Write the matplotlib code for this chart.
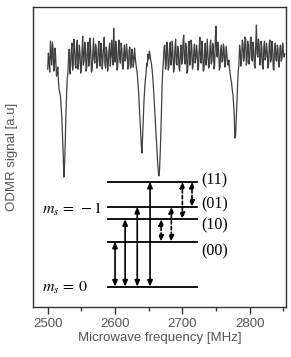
import numpy as np
import matplotlib
matplotlib.use("Agg")
import matplotlib.pyplot as plt

# ODMR spectrum, 1 MHz steps from 2500 MHz
freq = np.arange(2500, 2853, 1)
signal = [
    98.6, 100.2, 99.4, 98.3, 101.4, 100.1, 99.0, 101.3, 100.6, 98.4,
    98.9, 100.7, 99.6, 97.9, 98.2, 98.8, 97.4, 96.5, 96.3, 95.9,
    94.8, 93.7, 92.0, 90.1, 87.8, 89.0, 91.0, 93.9, 96.0, 97.6,
    98.3, 99.7, 100.6, 98.1, 98.9, 100.4, 101.2, 98.5, 99.1, 101.6,
    100.8, 99.0, 98.7, 100.9, 101.5, 98.6, 99.3, 101.0, 100.2, 98.2,
    98.6, 100.4, 101.9, 99.0, 99.4, 101.3, 100.9, 98.4, 98.8, 100.6,
    101.3, 98.9, 99.6, 101.7, 100.4, 98.3, 98.5, 100.1, 101.7, 99.6,
    99.2, 101.1, 100.8, 98.7, 99.0, 100.6, 101.4, 99.3, 98.9, 101.2,
    100.5, 98.6, 99.5, 101.0, 101.8, 99.1, 98.7, 100.8, 100.3, 98.4,
    99.1, 100.5, 101.2, 98.9, 99.8, 101.5, 100.1, 99.0, 102.7, 100.2,
    99.3, 101.4, 100.9, 98.5, 98.8, 100.7, 101.5, 99.6, 99.2, 101.2,
    100.7, 98.9, 98.6, 100.3, 101.0, 99.4, 99.7, 101.1, 100.4, 98.6,
    99.0, 100.5, 100.8, 98.7, 98.9, 100.6, 100.2, 98.8, 99.4, 100.7,
    99.8, 99.1, 98.6, 98.2, 97.3, 96.3, 95.0, 93.8, 92.5, 91.0,
    90.2, 91.9, 93.8, 95.4, 96.6, 97.5, 98.1, 99.2, 98.9, 100.1,
    99.6, 100.4, 100.0, 99.5, 99.2, 98.6, 97.8, 96.8, 95.6, 94.5,
    93.2, 92.0, 90.8, 89.6, 88.6, 87.9, 88.4, 90.0, 92.0, 94.8,
    97.2, 98.6, 99.6, 100.9, 101.0, 98.6, 99.1, 101.3, 100.7, 98.5,
    98.8, 100.6, 101.3, 99.0, 99.5, 101.4, 100.2, 98.3, 98.7, 100.8,
    101.6, 99.2, 99.0, 100.9, 100.6, 98.7, 98.4, 100.3, 101.0, 99.1,
    99.4, 101.3, 102.0, 99.6, 99.1, 101.2, 100.5, 98.2, 98.6, 100.9,
    101.4, 99.0, 99.3, 101.5, 100.9, 98.6, 98.9, 100.4, 101.1, 99.2,
    99.7, 101.0, 100.3, 98.5, 98.8, 100.7, 101.8, 99.3, 99.2, 101.4,
    100.6, 98.4, 98.5, 100.2, 101.2, 99.0, 99.6, 101.6, 100.1, 98.7,
    98.9, 100.8, 101.5, 99.1, 99.4, 101.2, 100.8, 98.6, 99.0, 101.7,
    102.9, 100.0, 99.8, 101.3, 100.4, 98.5, 98.8, 100.6, 101.0, 99.3,
    99.5, 101.1, 100.6, 98.8, 99.1, 100.9, 100.2, 99.4, 99.0, 99.5,
    98.6, 98.2, 97.6, 97.3, 96.6, 96.1, 95.2, 94.0, 91.7, 91.9,
    93.6, 95.5, 97.0, 98.4, 99.0, 101.0, 100.4, 98.9, 99.6, 101.5,
    101.2, 99.4, 99.9, 101.8, 101.6, 99.0, 99.3, 101.4, 100.9, 99.1,
    99.7, 101.5, 101.8, 99.6, 99.4, 101.3, 100.6, 98.9, 98.7, 101.2,
    103.0, 100.1, 99.8, 101.6, 101.1, 99.0, 99.2, 101.4, 100.7, 98.8,
    98.6, 100.9, 101.4, 99.5, 99.9, 101.2, 100.3, 98.7, 99.0, 101.1,
    101.5, 99.3, 99.6, 101.4, 100.8, 98.6, 98.5, 100.7, 101.2, 99.5,
    99.4, 101.0, 100.6, 98.9, 98.8, 100.9, 101.0, 99.4, 99.7, 101.2,
    100.4, 99.8, 100.1,
]
assert len(signal) == len(freq)

# energy level sketch (x in MHz, y as fraction of the axes height)
level_names = ["ms0", "00", "10", "01", "11"]
level_y = [0.068, 0.218, 0.293, 0.334, 0.418]
level_span = (2589, 2722)
level_labels = ["(00)", "(10)", "(01)", "(11)"]
label_y = [0.187, 0.271, 0.343, 0.422]

solid_x = [2600, 2615, 2633, 2652]
solid_pairs = [("ms0", "00"), ("ms0", "10"), ("ms0", "01"), ("ms0", "11")]
dashed_x = [2668.5, 2683.6, 2700, 2714.3]
dashed_pairs = [("10", "00"), ("01", "00"), ("11", "10"), ("11", "01")]

plt.rcParams["font.family"] = ["Liberation Sans", "DejaVu Sans"]
plt.rcParams["mathtext.fontset"] = "stix"

fig = plt.figure(figsize=(2.91, 3.57), dpi=100)
ax = fig.add_axes([0.113, 0.140, 0.870, 0.840])

ax.plot(freq, signal, color="#404040", lw=0.9)
ax.set_xlim(2478, 2854)
ax.set_ylim(74.8, 104.8)

tr = ax.get_xaxis_transform()
ly = dict(zip(level_names, level_y))
for y in level_y:
    ax.plot(level_span, [y, y], color="black", lw=1.3, transform=tr)

head = "<|-|>,head_length=0.35,head_width=0.15"
for x, (a, b) in zip(solid_x, solid_pairs):
    ax.annotate("", xy=(x, ly[b]), xytext=(x, ly[a]), xycoords=tr, textcoords=tr,
                arrowprops=dict(arrowstyle=head, color="black", lw=1.2,
                                shrinkA=0, shrinkB=0))
for x, (a, b) in zip(dashed_x, dashed_pairs):
    ax.annotate("", xy=(x, ly[b]), xytext=(x, ly[a]), xycoords=tr, textcoords=tr,
                arrowprops=dict(arrowstyle=head, color="black", lw=1.2, ls=(0, (2, 1.5)),
                                shrinkA=0, shrinkB=0))

serif = ["Liberation Serif", "DejaVu Serif"]
for lab, y in zip(level_labels, label_y):
    ax.text(2728, y, lab, transform=tr, fontsize=11.5, family=serif, va="center", ha="left")
ax.text(2492, 0.325, r"$m_s\,=\,-1$", transform=tr, fontsize=11.5, va="center", ha="left")
ax.text(2492, 0.063, r"$m_s\,=\,0$", transform=tr, fontsize=11.5, va="center", ha="left")

ax.set_xticks([2500, 2600, 2700, 2800])
ax.set_xticks([2550, 2650, 2750, 2850], minor=True)
ax.set_yticks([])
ax.tick_params(axis="x", which="major", length=5, width=1, colors="#333333",
               labelcolor="#555555", labelsize=9.5, pad=3)
ax.tick_params(axis="x", which="minor", length=3, width=1, colors="#333333")
for sp in ax.spines.values():
    sp.set_color("#333333")
    sp.set_linewidth(1.0)

ax.set_xlabel("Microwave frequency [MHz]", fontsize=9.5, color="#555555", labelpad=1)
fig.text(12 / 291, 0.56, "ODMR signal [a.u]", rotation=90, fontsize=9.5,
         color="#555555", va="center", ha="center")

fig.savefig("out.png", dpi=100)
